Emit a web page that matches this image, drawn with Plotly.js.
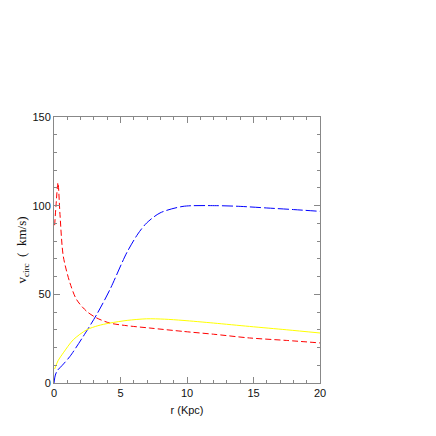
<!DOCTYPE html>
<html>
<head>
<meta charset="utf-8">
<script src="https://cdn.plot.ly/plotly-3.0.1.min.js"></script>
<style>html,body{margin:0;padding:0;background:#fff}#plot{width:436px;height:436px}</style>
</head>
<body>
<div id="plot"></div>
<script>
'use strict';

// Red (short dash) curve
const rRed = [0.05, 0.15, 0.3, 0.45, 0.7, 1.2, 1.7, 2.46, 3.2, 4.2, 5.5, 7.2, 9.7, 12, 14.7, 17.5, 20];
const vRed = [89, 100, 113, 95, 71.4, 56.4, 47, 40.4, 36.7, 33.8, 32.3, 31, 29.1, 27.5, 25.4, 24, 22.6];

// Blue (long dash) curve
const rBlue = [0, 0.1, 0.25, 0.6, 1.2, 2.2, 3.2, 4.2, 5.46, 6.3, 6.96, 7.97, 9.7, 12.2, 14, 16, 18, 20];
const vBlue = [0, 4.5, 7, 9.8, 15, 26.3, 38.5, 52.6, 73.3, 84, 90.2, 95.9, 99.6, 100, 99.6, 98.7, 97.8, 96.8];

// Yellow (solid) curve
const rYel = [0.05, 0.3, 0.7, 1.45, 2.46, 3.3, 4.2, 5.5, 6.96, 8.3, 9.7, 12, 14.7, 17.5, 20];
const vYel = [7.9, 12.5, 17, 24.4, 30, 32.3, 33.8, 35.3, 36.2, 36, 35.3, 33.8, 31.9, 30, 28.2];

const traces = [
    { x: rRed, y: vRed, type: 'scatter', mode: 'lines', line: { color: '#ff0000', width: 1, dash: '6px,3px', shape: 'spline', smoothing: 0.8 } },
    { x: rBlue, y: vBlue, type: 'scatter', mode: 'lines', line: { color: '#0000ff', width: 1, dash: '11px,3px', shape: 'spline', smoothing: 0.8 } },
    { x: rYel, y: vYel, type: 'scatter', mode: 'lines', line: { color: '#ffff00', width: 1, shape: 'spline', smoothing: 0.8 } }
];

const axisCommon = {
    showgrid: false, zeroline: false, showline: true, linecolor: '#888', linewidth: 1,
    mirror: 'allticks', ticks: 'inside', ticklen: 6, tickcolor: '#888',
    tickfont: { family: 'Liberation Sans, Arial, sans-serif', size: 11, color: '#111' }
};

const layout = {
    width: 436, height: 436,
    margin: { l: 54, r: 116, t: 117, b: 53 },
    paper_bgcolor: '#fff', plot_bgcolor: '#fff',
    showlegend: false,
    xaxis: Object.assign({}, axisCommon, {
        range: [0, 20], dtick: 5, tick0: 0,
        minor: { dtick: 1, ticks: 'inside', ticklen: 3, tickcolor: '#888' },
        title: { text: 'r (Kpc)', standoff: 8, font: { family: 'Liberation Sans, Arial, sans-serif', size: 11, color: '#111' } }
    }),
    yaxis: Object.assign({}, axisCommon, {
        range: [0, 150], dtick: 50, tick0: 0,
        minor: { dtick: 10, ticks: 'inside', ticklen: 3, tickcolor: '#888' },
        title: { text: 'v<sub>circ</sub>  (  km/s)', standoff: 2, font: { family: 'Liberation Serif, Times New Roman, serif', size: 13, color: '#111' } }
    })
};

Plotly.newPlot('plot', traces, layout, { staticPlot: true, displayModeBar: false });
</script>
</body>
</html>
